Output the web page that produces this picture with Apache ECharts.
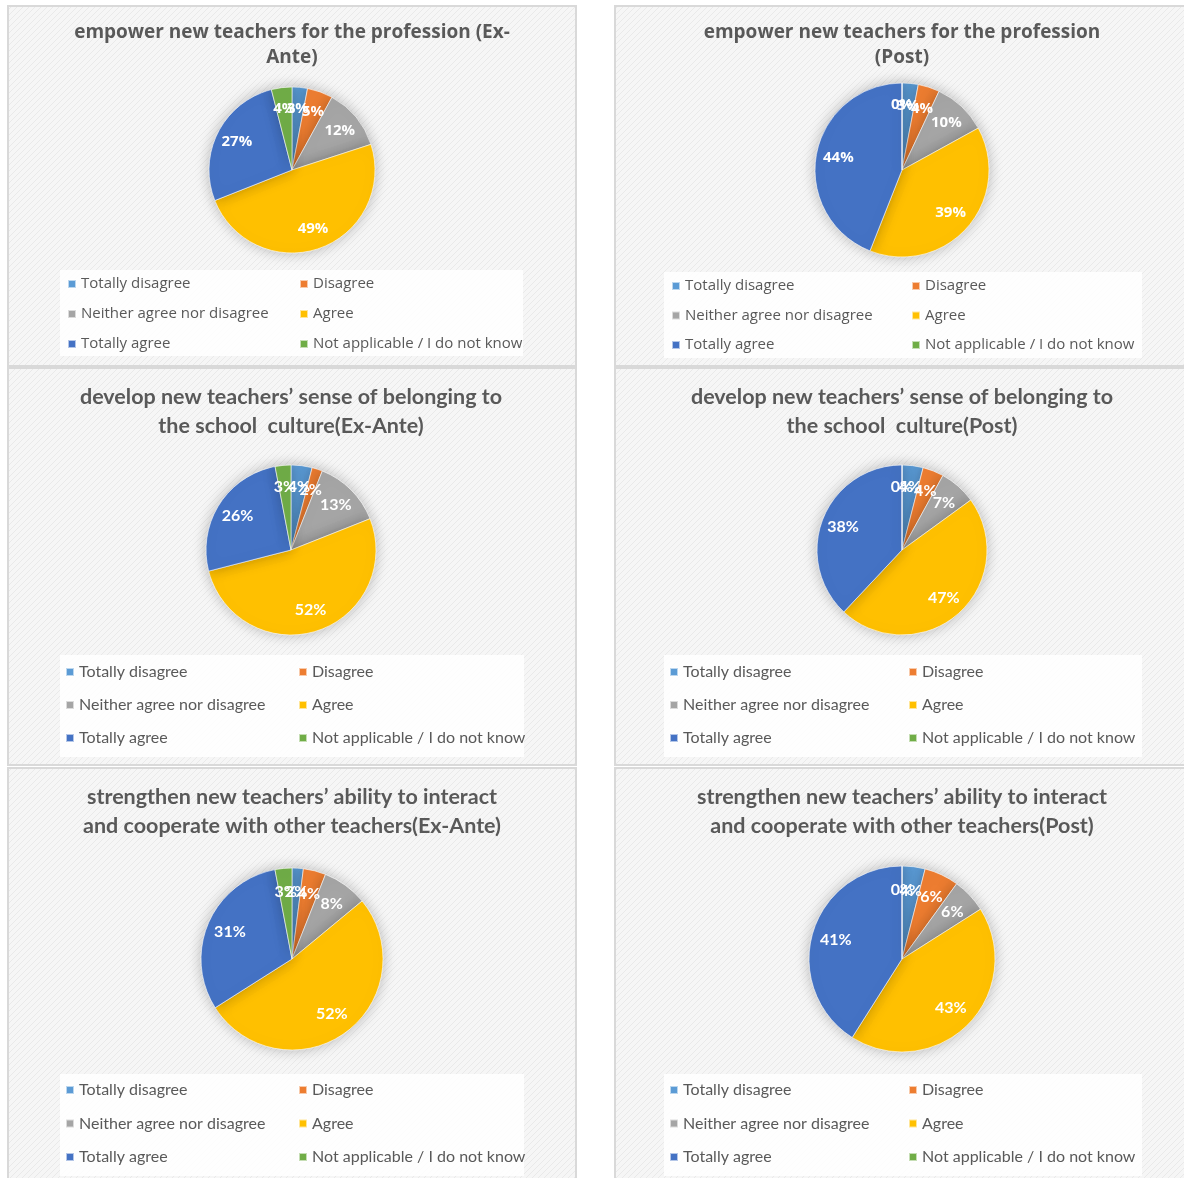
<!DOCTYPE html>
<html>
<head>
<meta charset="utf-8">
<script src="https://cdn.jsdelivr.net/npm/echarts@6.0.0/dist/echarts.min.js"></script>
<style>
  html, body { margin: 0; padding: 0; background: #fff; }
  #pies { width: 1184px; height: 1178px; }
</style>
</head>
<body>
<div id="pies"></div>
<script>
// answer categories (same for every pie)
var categories = ['Totally disagree', 'Disagree', 'Neither agree nor disagree', 'Agree', 'Totally agree', 'Not applicable / I do not know'];
var colors = ['#5B9BD5', '#ED7D31', '#A5A5A5', '#FFC000', '#4472C4', '#70AD47'];

// percentages
var empowerExAnte = [3, 5, 12, 49, 27, 4];
var empowerPost = [3, 4, 10, 39, 44, 0];
var belongingExAnte = [4, 2, 13, 52, 26, 3];
var belongingPost = [4, 4, 7, 47, 38, 0];
var cooperateExAnte = [2, 4, 8, 52, 31, 3];
var cooperatePost = [4, 6, 6, 43, 41, 0];

var titles = [
  'empower new teachers for the profession (Ex-\nAnte)',
  'empower new teachers for the profession\n(Post)',
  'develop new teachers\u2019 sense of belonging to\nthe school  culture(Ex-Ante)',
  'develop new teachers\u2019 sense of belonging to\nthe school  culture(Post)',
  'strengthen new teachers\u2019 ability to interact\nand cooperate with other teachers(Ex-Ante)',
  'strengthen new teachers\u2019 ability to interact\nand cooperate with other teachers(Post)'
];
var values = [empowerExAnte, empowerPost, belongingExAnte, belongingPost, cooperateExAnte, cooperatePost];

var wide = '"Open Sans", sans-serif';
var narrow = 'Lato, "Open Sans", sans-serif';

// layout of each panel (pixels)
var panels = [
  {x: 8, y: 6, w: 568, h: 360, cx: 292, cy: 170, r: 83, tTop: 20, tSize: 19, tLh: 25, box: [60, 270, 463, 86], legX: [67, 299], legTop: 276, gap: 14, fs: 15, lh: 16, ls: 15, fam: wide},
  {x: 615, y: 6, w: 575, h: 360, cx: 902, cy: 170, r: 87, tTop: 20, tSize: 19, tLh: 25, box: [664, 272, 478, 86], legX: [671, 911], legTop: 278, gap: 13.5, fs: 15, lh: 16, ls: 15, fam: wide},
  {x: 8, y: 368, w: 568, h: 397, cx: 291, cy: 550, r: 85, tTop: 383, tSize: 21.5, tLh: 29, box: [60, 655, 464, 102], legX: [65, 298], legTop: 663, gap: 15, fs: 16, lh: 18, ls: 16, fam: narrow},
  {x: 615, y: 368, w: 575, h: 397, cx: 902, cy: 550, r: 85, tTop: 383, tSize: 21.5, tLh: 29, box: [664, 655, 478, 102], legX: [669, 908], legTop: 663, gap: 15, fs: 16, lh: 18, ls: 16, fam: narrow},
  {x: 8, y: 768, w: 568, h: 420, cx: 292, cy: 959, r: 91, tTop: 783, tSize: 21.5, tLh: 29, box: [60, 1074, 464, 102], legX: [65, 298], legTop: 1081, gap: 15.5, fs: 16, lh: 18, ls: 16, fam: narrow},
  {x: 615, y: 768, w: 575, h: 420, cx: 902, cy: 959, r: 93, tTop: 783, tSize: 21.5, tLh: 29, box: [664, 1074, 478, 102], legX: [669, 908], legTop: 1081, gap: 15.5, fs: 16, lh: 18, ls: 16, fam: narrow}
];

// hatched panel background like the spreadsheet chart area
var hatch = document.createElement('canvas');
hatch.width = 6;
hatch.height = 6;
var hc = hatch.getContext('2d');
hc.fillStyle = '#f6f6f6';
hc.fillRect(0, 0, 6, 6);
hc.strokeStyle = '#e9e9e9';
hc.lineWidth = 1;
hc.beginPath();
hc.moveTo(0, 6); hc.lineTo(6, 0);
hc.moveTo(-1, 1); hc.lineTo(1, -1);
hc.moveTo(5, 7); hc.lineTo(7, 5);
hc.stroke();

var title = [], legend = [], series = [], graphic = [];

panels.forEach(function (p, i) {
  graphic.push({
    type: 'rect', z: -10, silent: true,
    shape: {x: p.x, y: p.y, width: p.w, height: p.h},
    style: {fill: {image: hatch, repeat: 'repeat'}, stroke: '#d9d9d9', lineWidth: 2}
  });
  graphic.push({
    type: 'rect', z: -9, silent: true,
    shape: {x: p.box[0], y: p.box[1], width: p.box[2], height: p.box[3]},
    style: {fill: 'rgba(255,255,255,0.85)'}
  });

  title.push({
    text: titles[i],
    left: p.cx,
    top: p.tTop,
    textAlign: 'center',
    padding: 0,
    textStyle: {fontFamily: p.fam, fontSize: p.tSize, fontWeight: 'bold', color: '#595959', lineHeight: p.tLh}
  });

  // two legend columns: items 0,2,4 on the left, 1,3,5 on the right
  [0, 1].forEach(function (col) {
    var items = [];
    for (var k = col; k < categories.length; k += 2) {
      items.push({name: categories[k], icon: 'rect', itemStyle: {color: colors[k]}});
    }
    legend.push({
      orient: 'vertical',
      left: p.legX[col],
      top: p.legTop,
      padding: 0,
      itemGap: p.gap,
      itemWidth: 8,
      itemHeight: 8,
      selectedMode: false,
      data: items,
      textStyle: {fontFamily: p.fam, fontSize: p.fs, color: '#595959', lineHeight: p.lh}
    });
  });

  var data = values[i].map(function (v, k) {
    return {name: categories[k], value: v, itemStyle: {color: colors[k]}};
  });

  series.push({
    type: 'pie',
    center: [p.cx, p.cy],
    radius: [0, p.r],
    startAngle: 90,
    silent: true,
    label: {show: false},
    labelLine: {show: false},
    itemStyle: {borderColor: 'rgba(255,255,255,0.6)', borderWidth: 1, shadowBlur: 14, shadowColor: 'rgba(0,0,0,0.25)'},
    data: data
  });
  // label-only ring so the percentages sit ~70% of the way out, as in the original
  series.push({
    type: 'pie',
    center: [p.cx, p.cy],
    radius: [p.r * 0.42, p.r],
    startAngle: 90,
    silent: true,
    z: 3,
    itemStyle: {color: 'rgba(0,0,0,0)'},
    labelLayout: {hideOverlap: false},
    label: {
      show: true,
      position: 'inside',
      formatter: '{c}%',
      color: '#fff',
      fontFamily: p.fam,
      fontWeight: 'bold',
      fontSize: p.ls
    },
    labelLine: {show: false},
    data: values[i].map(function (v, k) { return {name: categories[k], value: v}; })
  });
});

var chart = echarts.init(document.getElementById('pies'));
chart.setOption({
  animation: false,
  title: title,
  legend: legend,
  graphic: graphic,
  series: series
});
</script>
</body>
</html>
